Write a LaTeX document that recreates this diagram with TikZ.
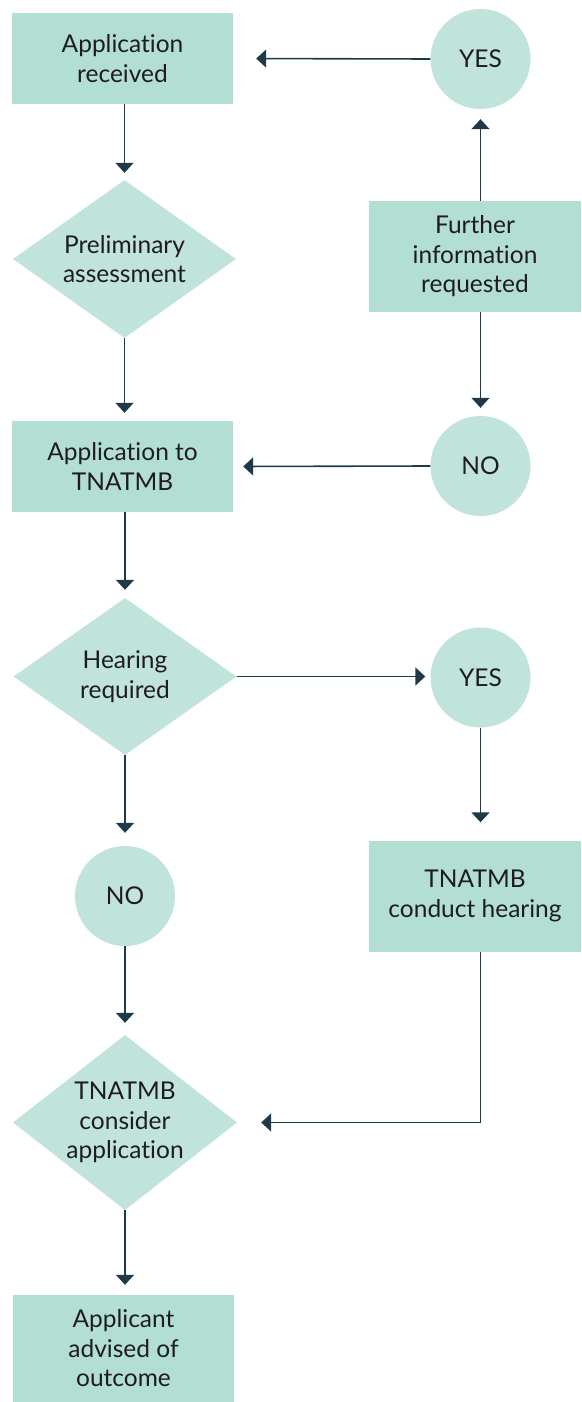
\documentclass[tikz,border=0pt]{standalone}
\usepackage{fontspec}
\setmainfont{Lato}[Ligatures={NoCommon}]
\usetikzlibrary{shapes.geometric,arrows.meta}
\definecolor{boxc}{HTML}{B2DED3}
\definecolor{lightc}{HTML}{C0E3DB}
\definecolor{arrc}{HTML}{1E3A46}
\definecolor{txtc}{HTML}{1F1C1D}
\begin{document}
\begin{tikzpicture}[x=1pt,y=-1pt,
  every node/.style={font=\fontsize{24.5}{29.5}\selectfont, text=txtc, align=center, inner sep=0pt},
  box/.style={rectangle, fill=boxc, minimum width=#1},
  circ/.style={circle, fill=lightc, minimum size=100pt},
  dia/.style={diamond, fill=lightc, aspect=1.4, inner sep=-14pt},
  conn/.style={draw=arrc, line width=1.6pt, -{Triangle[width=18pt,length=10pt]}}
]
\useasboundingbox (0,0) rectangle (581,1402);

\node[box=221pt, minimum height=91pt] (b1) at (122.5,58.5) {Application\\received};
\node[circ] (y1) at (480.5,59) {YES};
\node[dia, minimum width=223pt, minimum height=158pt] (d1) at (124.5,259) {Preliminary\\assessment};
\node[box=212pt, minimum height=111pt] (fi) at (475,256.5) {Further\\information\\requested};
\node[box=221pt, minimum height=91pt] (b2) at (122.5,466.5) {Application to\\TNATMB};
\node[circ] (n1) at (480.5,466) {NO};
\node[dia, minimum width=223pt, minimum height=157pt] (d2) at (125,676.5) {Hearing\\required};
\node[circ] (y2) at (480.5,677.5) {YES};
\node[box=212pt, minimum height=111pt] (h) at (475,896) {TNATMB\\conduct hearing};
\node[circ] (n2) at (125,896) {NO};
\node[dia, aspect=1.28, minimum width=224pt, minimum height=175pt] (d3) at (125,1122.5) {TNATMB\\consider\\application};
\node[box=221pt, minimum height=107pt] (b3) at (123.5,1348.5) {Applicant\\advised of\\outcome};

\draw[conn, shorten >=7pt] (d1.north |- b1.south) -- (d1.north);
\draw[conn, shorten >=23pt] (y1.west) -- (b1.east);
\draw[conn, shorten >=8pt] (d1.south) -- (d1.south |- b2.north);
\draw[conn, shorten >=10pt] (y1.south |- fi.north) -- (y1.south);
\draw[conn, shorten >=8pt] (n1.north |- fi.south) -- (n1.north);
\draw[conn, shorten >=10pt] (n1.west) -- (b2.east);
\draw[conn, shorten >=8pt] (d2.north |- b2.south) -- (d2.north);
\draw[conn, shorten >=5pt] (d2.east) -- (d2.east -| y2.west);
\draw[conn, shorten >=18pt] (y2.south) -- (y2.south |- h.north);
\draw[conn, shorten >=13pt] (d2.south) -- (n2.north);
\draw[conn, shorten >=12pt] (n2.south) -- (d3.north);
\draw[conn, shorten >=24pt] (y2.south |- h.south) |- (d3.east);
\draw[conn, shorten >=10pt] (d3.south) -- (d3.south |- b3.north);
\end{tikzpicture}
\end{document}
